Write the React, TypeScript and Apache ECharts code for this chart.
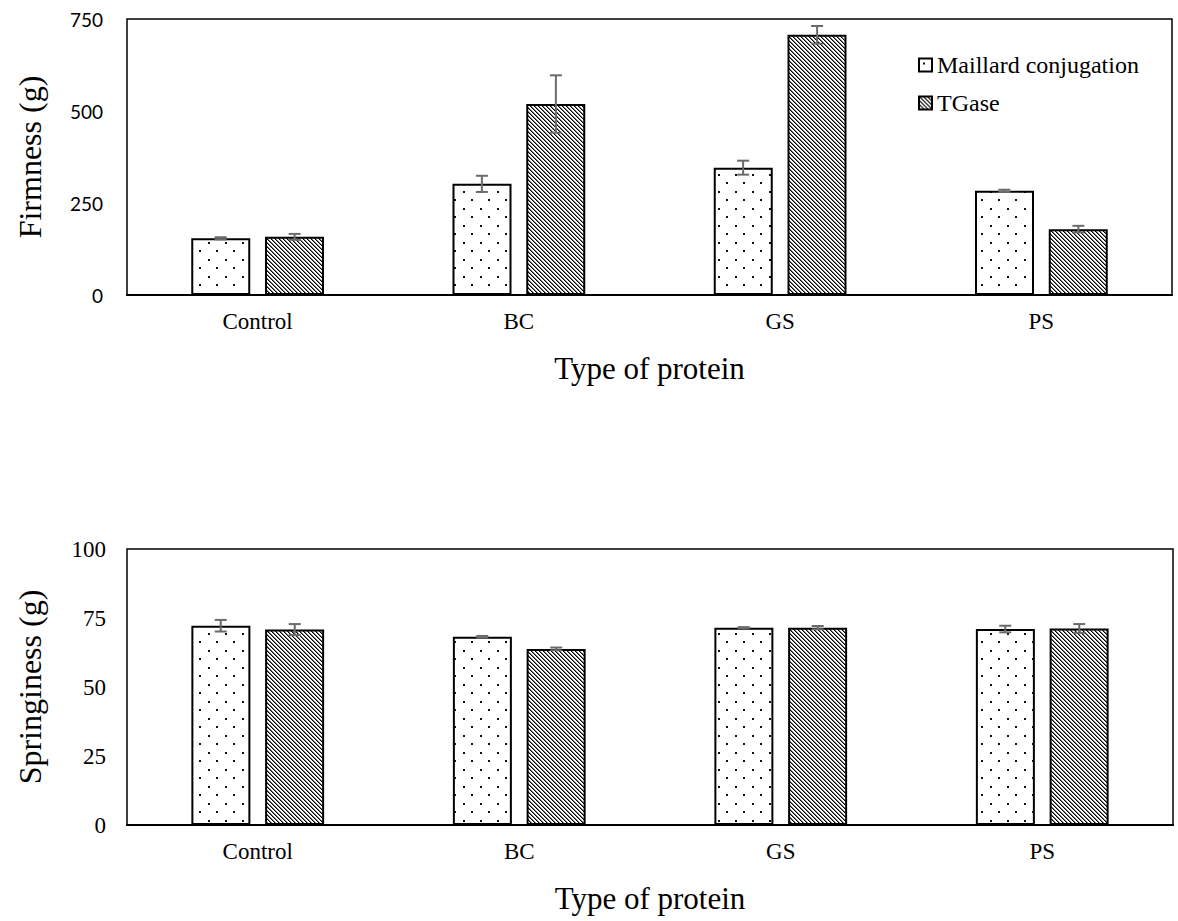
import React, { useEffect, useRef } from "react";
import * as echarts from "echarts";

// Protein types on the category axis
const categories = ["Control", "BC", "GS", "PS"];
const seriesNames = ["Maillard conjugation", "TGase"];

// Firmness (g): means and standard deviations
const firmnessMaillard = [154, 302, 346, 283];
const firmnessMaillardErr = [3, 22, 19, 3];
const firmnessTGase = [158, 519, 707, 179];
const firmnessTGaseErr = [8, 78, 24, 9];

// Springiness (g): means and standard deviations
const springMaillard = [72.2, 68.2, 71.5, 71.0];
const springMaillardErr = [2.1, 0.3, 0.2, 1.2];
const springTGase = [70.8, 63.8, 71.5, 71.2];
const springTGaseErr = [2.0, 0.5, 0.6, 1.6];

// Axis ranges
const firmnessMax = 750;
const firmnessStep = 250;
const springMax = 100;
const springStep = 25;

const SERIF = "'Liberation Serif', 'Times New Roman', serif";
const SANS = "Lato, 'Open Sans', sans-serif";

// Sparse staggered dot fill
function dotCanvas(): HTMLCanvasElement {
  const c = document.createElement("canvas");
  c.width = 17;
  c.height = 17;
  const ctx = c.getContext("2d")!;
  ctx.fillStyle = "#fff";
  ctx.fillRect(0, 0, 17, 17);
  ctx.fillStyle = "#111";
  ctx.fillRect(4, 4, 2, 2);
  ctx.fillRect(12, 12, 2, 2);
  return c;
}

// Dense downward-diagonal hatch fill
function hatchCanvas(): HTMLCanvasElement {
  const s = 4;
  const c = document.createElement("canvas");
  c.width = s;
  c.height = s;
  const ctx = c.getContext("2d")!;
  ctx.fillStyle = "#fff";
  ctx.fillRect(0, 0, s, s);
  for (let y = 0; y < s; y++) {
    ctx.fillStyle = "#000";
    ctx.fillRect(y, y, 1, 1);
    ctx.fillStyle = "#777";
    ctx.fillRect((y + 1) % s, y, 1, 1);
  }
  return c;
}

const BAR_W = 59;
const BAR_GAP = 15;
const HALF_STEP = (BAR_W + BAR_GAP) / 2;

function errorSeries(
  axisIndex: number,
  vals: number[],
  errs: number[],
  offset: number
) {
  return {
    type: "custom",
    xAxisIndex: axisIndex,
    yAxisIndex: axisIndex,
    z: 10,
    silent: true,
    data: vals.map((v, i) => [i, v - errs[i], v + errs[i]]),
    encode: { x: 0, y: [1, 2] },
    renderItem: (_params: any, api: any) => {
      const lo = api.coord([api.value(0), api.value(1)]);
      const hi = api.coord([api.value(0), api.value(2)]);
      const x = lo[0] + offset;
      const style = { stroke: "#6b6b6b", lineWidth: 2 };
      const cap = 6;
      return {
        type: "group",
        children: [
          { type: "line", shape: { x1: x, y1: lo[1], x2: x, y2: hi[1] }, style },
          { type: "line", shape: { x1: x - cap, y1: hi[1], x2: x + cap, y2: hi[1] }, style },
          { type: "line", shape: { x1: x - cap, y1: lo[1], x2: x + cap, y2: lo[1] }, style },
        ],
      };
    },
  };
}

export default function App() {
  const ref = useRef<HTMLDivElement>(null);

  useEffect(() => {
    if (!ref.current) return;
    const chart = echarts.init(ref.current, undefined, { renderer: "svg" });

    const dots = { image: dotCanvas(), repeat: "repeat" };
    const hatch = { image: hatchCanvas(), repeat: "repeat" };
    const barStyle = (color: any) => ({ color, borderColor: "#000", borderWidth: 2 });

    const xAxisBase = (gridIndex: number) => ({
      type: "category",
      gridIndex,
      data: categories,
      axisTick: { show: false },
      axisLine: { lineStyle: { color: "#000", width: 2 } },
      axisLabel: { fontFamily: SERIF, fontSize: 23, color: "#000", margin: 15 },
      name: "Type of protein",
      nameLocation: "middle",
      nameGap: 58,
      nameTextStyle: { fontFamily: SERIF, fontSize: 31, color: "#000" },
    });

    const yAxisBase = (
      gridIndex: number,
      max: number,
      step: number,
      name: string,
      labelFont: string,
      labelSize: number,
      labelMargin: number
    ) => ({
      type: "value",
      gridIndex,
      min: 0,
      max,
      interval: step,
      axisLine: { show: false },
      axisTick: { show: false },
      splitLine: { show: false },
      axisLabel: { fontFamily: labelFont, fontSize: labelSize, color: "#000", margin: labelMargin },
      name,
      nameLocation: "middle",
      nameGap: 81,
      nameTextStyle: { fontFamily: SERIF, fontSize: 32, color: "#000" },
    });

    const option: any = {
      animation: false,
      backgroundColor: "#fff",
      grid: [
        {
          left: 127, top: 19, width: 1045, height: 276,
          show: true, borderColor: "#000", borderWidth: 1.5,
        },
        {
          left: 127, top: 549, width: 1046, height: 276,
          show: true, borderColor: "#000", borderWidth: 1.5,
        },
      ],
      legend: {
        data: seriesNames,
        orient: "vertical",
        left: 913,
        top: 48,
        icon: "rect",
        itemWidth: 13,
        itemHeight: 13,
        itemGap: 14,
        textStyle: { fontFamily: SERIF, fontSize: 24, color: "#000" },
        selectedMode: false,
      },
      xAxis: [xAxisBase(0), xAxisBase(1)],
      yAxis: [
        yAxisBase(0, firmnessMax, firmnessStep, "Firmness (g)", SANS, 19, 24),
        yAxisBase(1, springMax, springStep, "Springiness (g)", SERIF, 23, 21),
      ],
      series: [
        {
          name: seriesNames[0], type: "bar", xAxisIndex: 0, yAxisIndex: 0,
          data: firmnessMaillard, barWidth: BAR_W, barGap: "25%",
          itemStyle: barStyle(dots),
        },
        {
          name: seriesNames[1], type: "bar", xAxisIndex: 0, yAxisIndex: 0,
          data: firmnessTGase, barWidth: BAR_W, barGap: "25%",
          itemStyle: barStyle(hatch),
        },
        {
          name: seriesNames[0], type: "bar", xAxisIndex: 1, yAxisIndex: 1,
          data: springMaillard, barWidth: BAR_W, barGap: "25%",
          itemStyle: barStyle(dots),
        },
        {
          name: seriesNames[1], type: "bar", xAxisIndex: 1, yAxisIndex: 1,
          data: springTGase, barWidth: BAR_W, barGap: "25%",
          itemStyle: barStyle(hatch),
        },
        errorSeries(0, firmnessMaillard, firmnessMaillardErr, -HALF_STEP),
        errorSeries(0, firmnessTGase, firmnessTGaseErr, HALF_STEP),
        errorSeries(1, springMaillard, springMaillardErr, -HALF_STEP),
        errorSeries(1, springTGase, springTGaseErr, HALF_STEP),
      ],
    };

    chart.setOption(option);
    return () => chart.dispose();
  }, []);

  return (
    <div
      ref={ref}
      style={{ position: "absolute", left: 0, top: 0, width: 1178, height: 921 }}
    />
  );
}
